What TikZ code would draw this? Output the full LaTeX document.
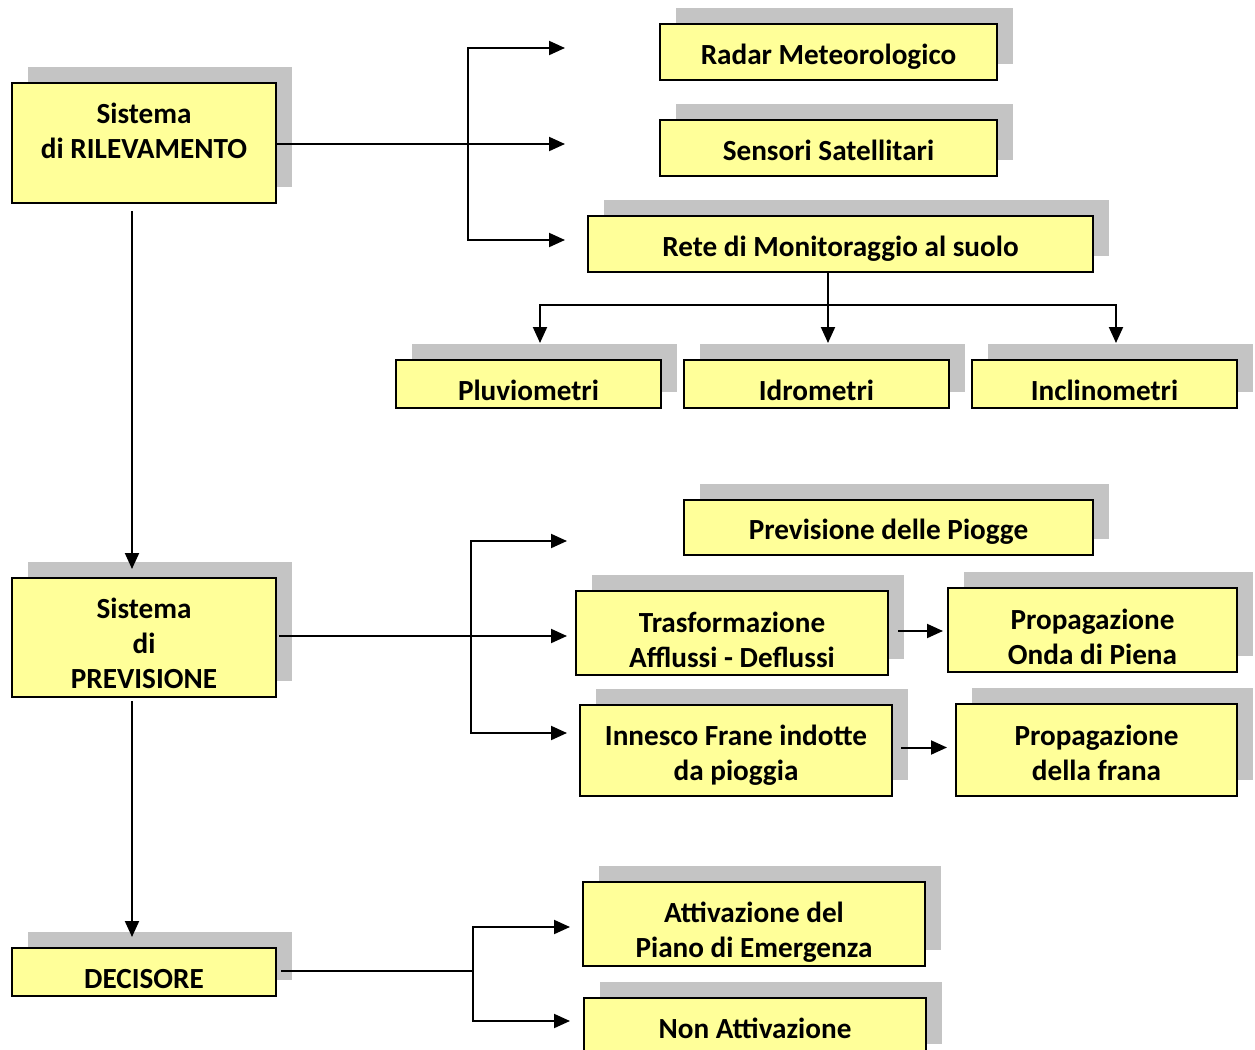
\documentclass[tikz,border=0pt]{standalone}
\usepackage{fontspec}
\setmainfont{Carlito}
\usepackage{tikz}
\usetikzlibrary{arrows.meta,shadows}

\definecolor{boxyellow}{HTML}{FFFF99}
\definecolor{shadowgray}{HTML}{C4C4C4}

\newcommand{\boxlines}[2]{\raisebox{#1}[0pt][0pt]{\begin{tabular}{@{}c@{}}#2\end{tabular}}}

\tikzset{
  box/.style={draw,line width=1pt,fill=boxyellow,align=center,inner sep=0pt,
    font=\bfseries\fontsize{14.6}{17.5}\selectfont,
    general shadow={fill=shadowgray,shadow xshift=8pt,shadow yshift=8pt}},
  link/.style={line width=1pt},
  arr/.style={link,-{Triangle[length=8pt,width=7pt]}},
}

\begin{document}
\begin{tikzpicture}[x=0.5pt,y=-0.5pt]
			\clip (0,0) rectangle (1255,1050);
			% rilevamento
			\node[box,minimum width=132pt,minimum height=60pt] (ril) at (144,143) {\boxlines{0.9pt}{Sistema\\di RILEVAMENTO}};
			\node[box,minimum width=168.5pt,minimum height=28pt] (radar) at (828.5,52) {\boxlines{-6.1pt}{Radar Meteorologico}};
			\node[box,minimum width=168.5pt,minimum height=28pt] (sens) at (828.5,148) {\boxlines{-6.1pt}{Sensori Satellitari}};
			\node[box,minimum width=252.5pt,minimum height=28pt] (rete) at (840.5,244) {\boxlines{-6.1pt}{Rete di Monitoraggio al suolo}};
			\node[box,minimum width=132.5pt,minimum height=24pt] (pluv) at (528.5,384) {\boxlines{-8.1pt}{Pluviometri}};
			\node[box,minimum width=132.5pt,minimum height=24pt] (idro) at (816.5,384) {\boxlines{-8.1pt}{Idrometri}};
			\node[box,minimum width=132.5pt,minimum height=24pt] (incl) at (1104.5,384) {\boxlines{-8.1pt}{Inclinometri}};
			% previsione
			\node[box,minimum width=132pt,minimum height=59.5pt] (prev) at (144,637.5) {\boxlines{-7.85pt}{Sistema\\di\\PREVISIONE}};
			\node[box,minimum width=204.5pt,minimum height=27.5pt] (piog) at (888.5,527.5) {\boxlines{-6.1pt}{Previsione delle Piogge}};
			\node[box,minimum width=156pt,minimum height=42pt] (trasf) at (732,633) {\boxlines{-8.35pt}{Trasformazione\\Afflussi - Deflussi}};
			\node[box,minimum width=144.5pt,minimum height=42pt] (onda) at (1092.5,630) {\boxlines{-8.35pt}{Propagazione\\Onda di Piena}};
			\node[box,minimum width=156pt,minimum height=45.5pt] (inn) at (736,750.5) {\boxlines{-6.1pt}{Innesco Frane indotte\\da pioggia}};
			\node[box,minimum width=140.5pt,minimum height=46pt] (frana) at (1096.5,750) {\boxlines{-6.35pt}{Propagazione\\della frana}};
			% decisore
			\node[box,minimum width=132pt,minimum height=24pt] (dec) at (144,972) {\boxlines{-8.1pt}{DECISORE}};
			\node[box,minimum width=171pt,minimum height=42pt] (att) at (754,924) {\boxlines{-8.1pt}{Attivazione del\\Piano di Emergenza}};
			\node[box,minimum width=171pt,minimum height=31pt] (nonatt) at (755,1029) {\boxlines{-4.6pt}{Non Attivazione}};

			\coordinate (rj1) at (468,144);
			\coordinate (t1) at (565,48);
			\coordinate (t2) at (565,144);
			\coordinate (t3) at (565,240);
			\draw[arr] (t2 -| ril.east) -- (t2);
			\draw[arr] (rj1) |- (t1);
			\draw[arr] (rj1) |- (t3);

			\coordinate (rj2) at (828,305);
			\draw[arr] (rete.south -| rj2) -- ([yshift=8pt]idro.north -| rj2);
			\draw[arr] (rj2) -| ([xshift=5.75pt,yshift=8pt]pluv.north);
			\draw[arr] (rj2) -| ([xshift=5.75pt,yshift=8pt]incl.north);

			\draw[arr] ([xshift=-6pt,yshift=-3.5pt]ril.south) -- ([xshift=-6pt,yshift=4pt]prev.north);
			\draw[arr] ([xshift=-6pt,yshift=-1.5pt]prev.south) -- ([xshift=-6pt,yshift=5pt]dec.north);

			\coordinate (pj) at (471,636);
			\coordinate (p1) at (567,541);
			\coordinate (p2) at (567,636);
			\coordinate (p3) at (567,733);
			\draw[arr] ([xshift=1pt]prev.east |- pj) -- (p2);
			\draw[arr] (pj) |- (p1);
			\draw[arr] (pj) |- (p3);
			\draw[arr] ([xshift=4.5pt,yshift=1pt]trasf.east) -- ([xshift=-2pt,yshift=1pt]trasf.east -| onda.west);
			\draw[arr] ([xshift=4pt,yshift=1.5pt]inn.east) -- ([xshift=-4pt,yshift=1.5pt]inn.east -| frana.west);

			\coordinate (dj) at (473,971);
			\coordinate (d1) at (570,927);
			\coordinate (d2) at (570,1021);
			\draw[link] ([xshift=2pt]dec.east |- dj) -- (dj);
			\draw[arr] (dj) |- (d1);
			\draw[arr] (dj) |- (d2);
		\end{tikzpicture}
\end{document}
